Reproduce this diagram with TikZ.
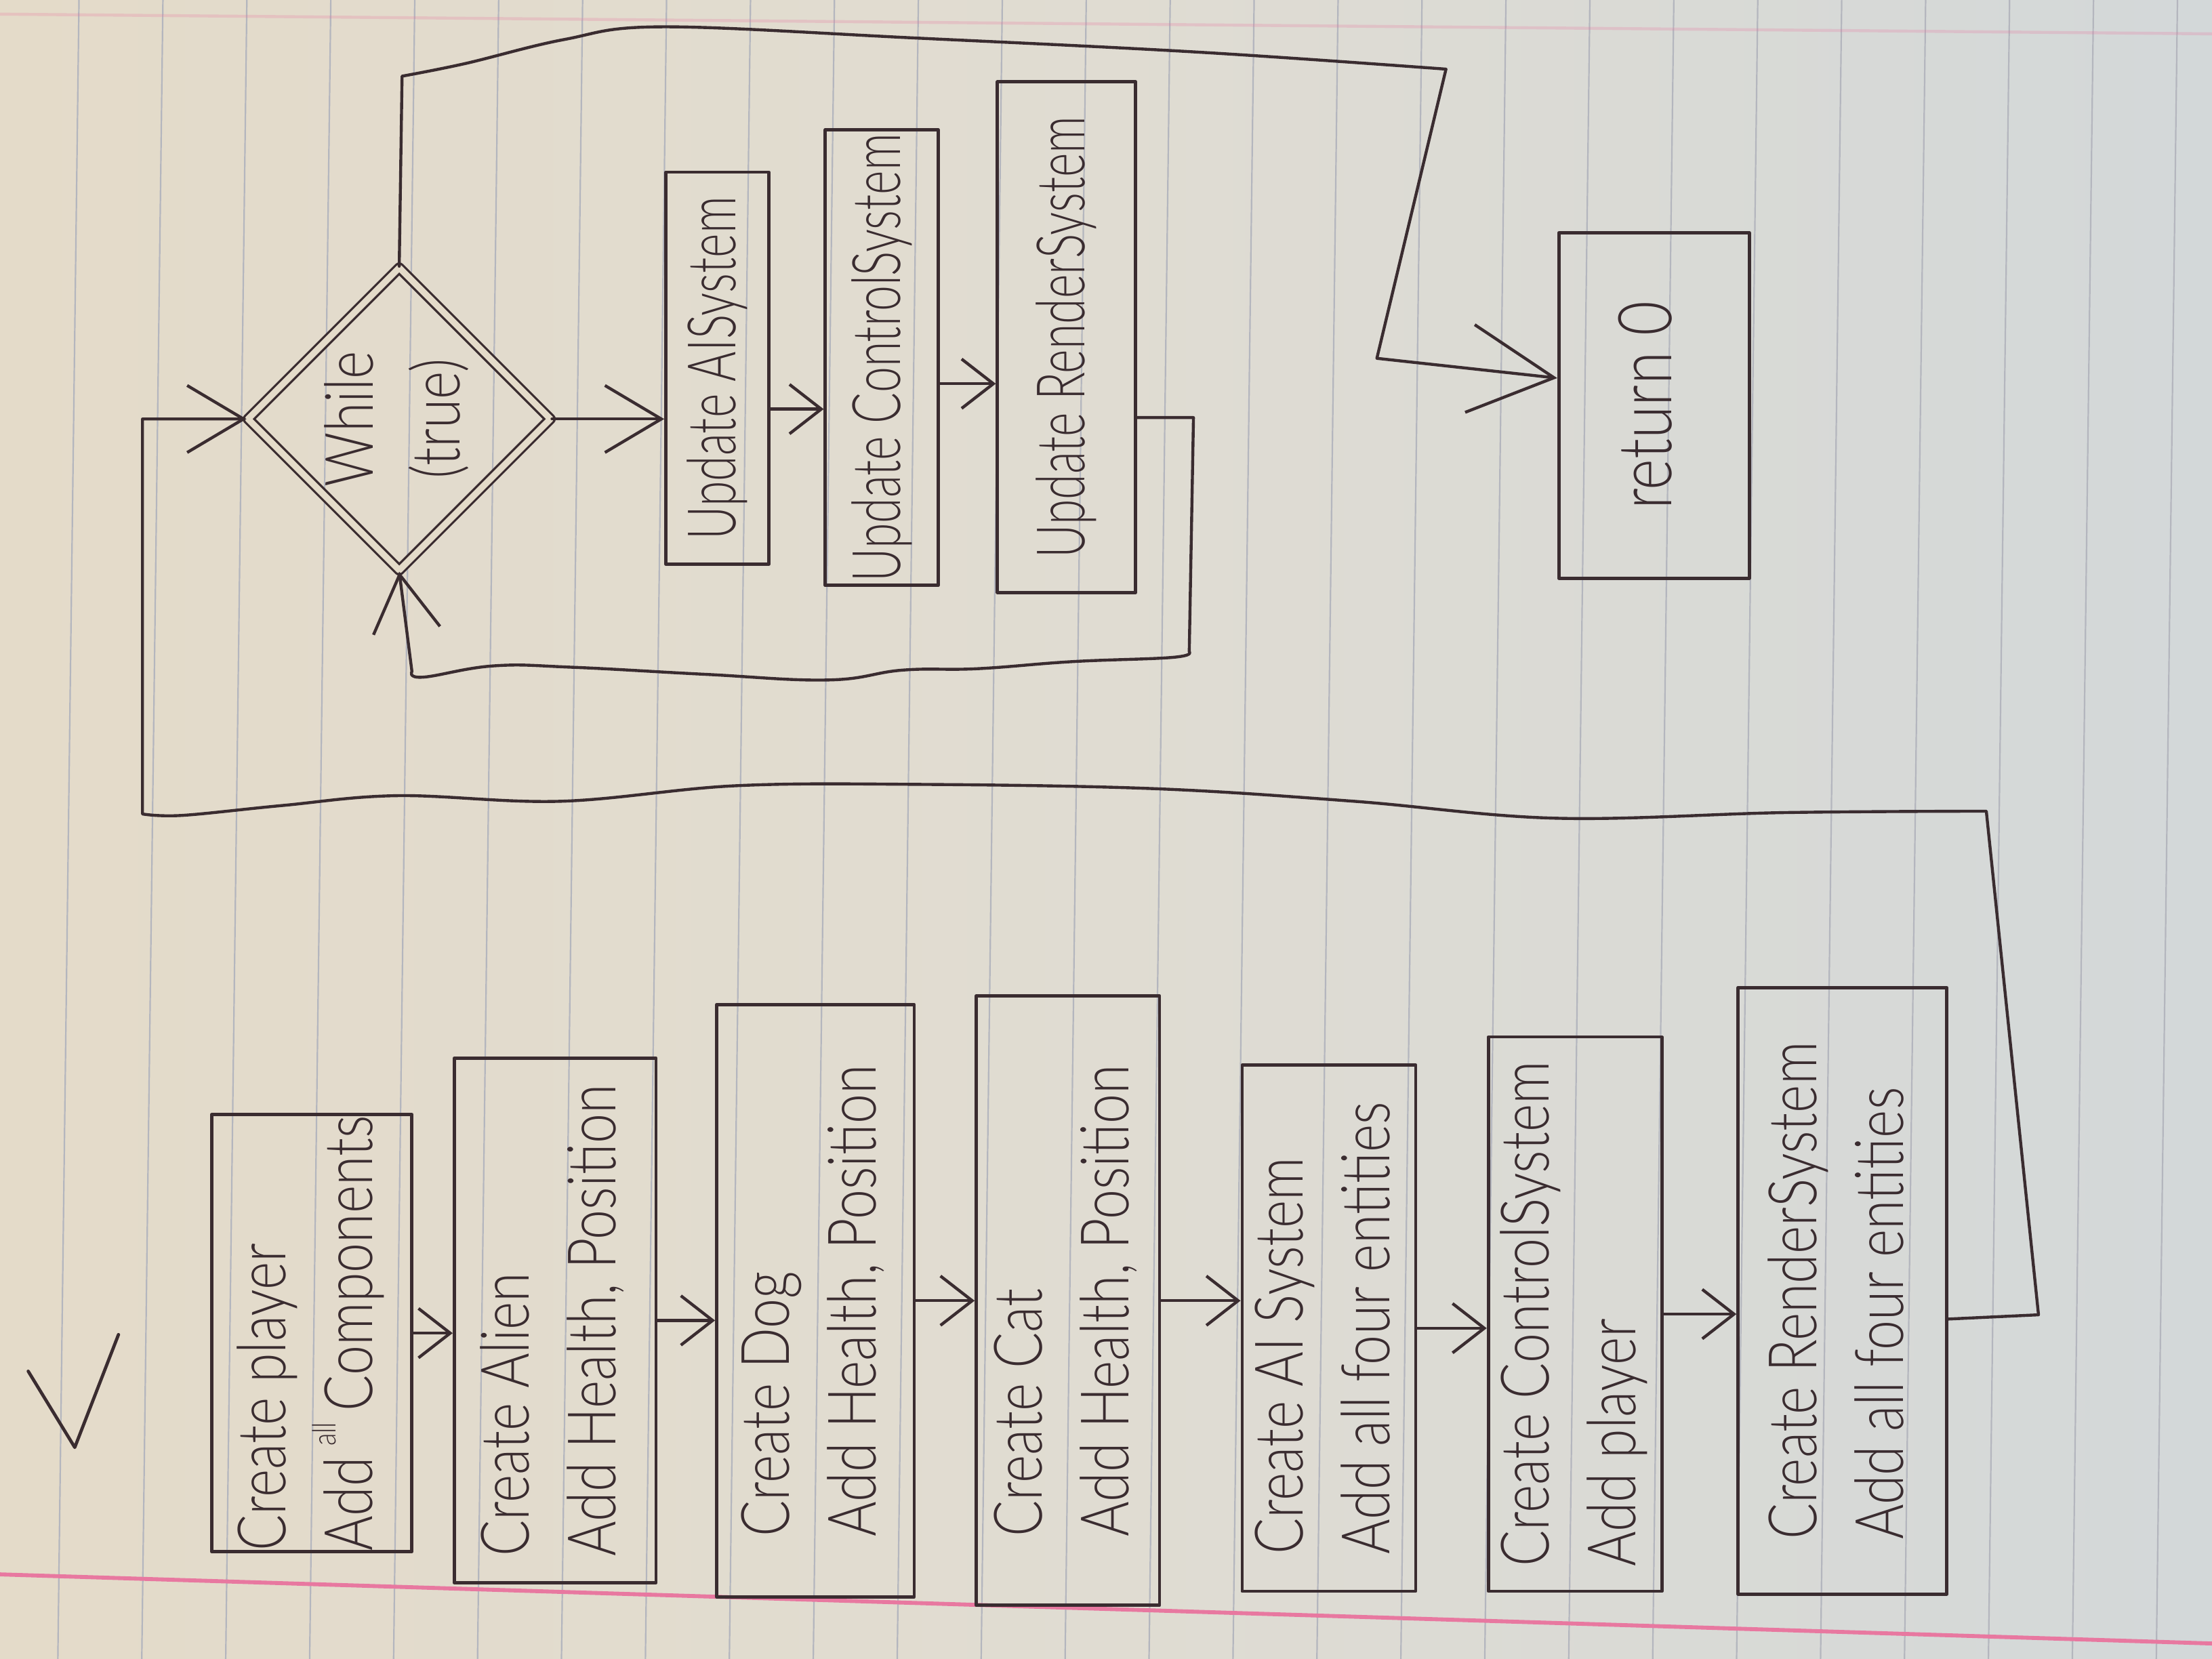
\documentclass[tikz,border=0pt]{standalone}
\usepackage{fontspec}
\newfontfamily\hand{Lato Light}[FakeStretch=0.8]
\usetikzlibrary{shapes.geometric,arrows.meta}

\definecolor{pen}{RGB}{58,44,48}
\definecolor{paperL}{RGB}{228,219,201}
\definecolor{paperM}{RGB}{224,220,210}
\definecolor{paperR}{RGB}{211,216,217}
\definecolor{ruling}{RGB}{180,182,190}
\definecolor{marginpink}{RGB}{232,120,160}

% labels written sideways (reading upwards)
\newcommand{\rt}[1]{\rotatebox{90}{\begin{tabular}{@{}l@{}}#1\end{tabular}}}
\newcommand{\rtc}[1]{\rotatebox{90}{\begin{tabular}{@{}c@{}}#1\end{tabular}}}
\newcommand{\rts}[1]{\rotatebox{90}{\scalebox{0.86}[1]{#1}}}

\begin{document}
\begin{tikzpicture}[x=0.02cm, y=-0.02cm,
  ink/.style={draw=pen, line width=1.3pt, line join=round, line cap=round},
  box/.style={ink, rectangle, inner sep=0pt, text=pen, font=\hand\fontsize{27}{35}\selectfont},
  lbl/.style={inner sep=0pt, text=pen, font=\hand\fontsize{27}{35}\selectfont},
  wire/.style={draw=pen, line width=1.2pt, line join=round, line cap=round},
  tipS/.style={-{Straight Barb[length=0.45cm, width=0.7cm]}},
  tipM/.style={-{Straight Barb[length=0.8cm, width=0.95cm]}},
  tipL/.style={-{Straight Barb[length=1.2cm, width=1.25cm]}},
]
\useasboundingbox (0,0) rectangle (1568,1176);

% ruled paper
\shade[left color=paperL, right color=paperR, middle color=paperM] (0,0) rectangle (1568,1176);
\foreach \k in {-3,...,25}
  \draw[ruling, line width=0.6pt] ({175+59.5*\k},0) -- ({160+59.5*\k},1176);
\draw[marginpink, line width=1.6pt] (0,1116) -- (1568,1165);
\draw[marginpink, opacity=0.25, line width=1.2pt] (0,10) -- (1568,24);

% tick in the margin
\draw[ink] (20,972) -- (53,1026) -- (84,946);

% set-up chain
\node[box, minimum width=2.84cm, minimum height=6.2cm]  (p1) at (221,945)
  {\rt{Create player\\Add\,\raisebox{0.55em}{\fontsize{13}{13}\selectfont all}\,Components}};
\node[box, minimum width=2.86cm, minimum height=7.44cm] (p2) at (393.5,936)
  {\rt{Create Alien\\Add Health, Position}};
\node[box, minimum width=2.8cm,  minimum height=8.4cm]  (p3) at (578,922)
  {\rt{Create Dog\\Add Health, Position}};
\node[box, minimum width=2.6cm,  minimum height=8.64cm] (p4) at (757,922)
  {\rt{Create Cat\\Add Health, Position}};
\node[box, minimum width=2.32cm, minimum height=7.46cm] (p5) at (942,941.5)
  {\rt{Create AI System\\Add all four entities}};
\node[box, minimum width=2.34cm, minimum height=7.86cm] (p6) at (1116.5,931.5)
  {\rt{Create ControlSystem\\Add player}};
\node[box, minimum width=2.96cm, minimum height=8.6cm]  (p7) at (1306,915)
  {\rt{Create RenderSystem\\Add all four entities}};

% game loop
\node[ink, diamond, aspect=1, minimum size=4.3cm, inner sep=0pt,
      double=paperL, double distance=0.09cm, line width=0.9pt] (cond) at (283,297) {};
\node[lbl] (condtxt) at (cond) {\rtc{While\\(true)}};
\node[box, minimum width=1.46cm, minimum height=5.56cm] (ua) at (508.5,261) {\rts{Update AISystem}};
\node[box, minimum width=1.6cm,  minimum height=6.46cm] (uc) at (625,253.5) {\rts{Update ControlSystem}};
\node[box, minimum width=1.96cm, minimum height=7.24cm] (ur) at (756,239) {\rts{Update RenderSystem}};
\node[box, minimum width=2.7cm,  minimum height=4.9cm, font=\hand\fontsize{30}{35}\selectfont]
  (ret) at (1172.5,287.5) {\rt{return 0}};

% arrows along the set-up chain
\draw[wire, tipS] (p1.east) -- (p1.east -| p2.west);
\draw[wire, tipS] (p2.east) -- (p2.east -| p3.west);
\draw[wire, tipS] (p3.east) -- (p3.east -| p4.west);
\draw[wire, tipS] (p4.east) -- (p4.east -| p5.west);
\draw[wire, tipS] (p5.east) -- (p5.east -| p6.west);
\draw[wire, tipS] (p6.east) -- (p6.east -| p7.west);

% from the last system into the loop condition
\draw[wire, tipM] (p7.east |- 0,935) -- (1445,932) -- plot[smooth, tension=0.6] coordinates
  {(1408,575) (1265,576) (1103,580) (960,568) (817,559) (650,556) (521,557)
   (397,568) (282,564) (200,571) (129,578) (101,577)}
  |- (cond.west);

% loop body
\draw[wire, tipM] (cond.east) -- (cond.east -| ua.west);
\draw[wire, tipS] (ua.east |- 0,290) -- (uc.west |- 0,290);
\draw[wire, tipS] (uc.east |- 0,272) -- (ur.west |- 0,272);
\draw[wire, tipM] (ur.east |- 0,296) -- (846,296) -- plot[smooth, tension=0.7] coordinates
  {(843,462) (831,466) (760,469) (693,474) (640,475) (587,482) (500,478)
   (406,473) (350,472) (300,480) (292,476)}
  -- (cond.south);

% leaving the loop
\draw[wire, tipL] (cond.north) -- plot[smooth, tension=0.6] coordinates
  {(285,54) (330,45) (400,28) (470,19) (650,27) (850,37) (1025,49)}
  -- (976,254) -- (ret.west |- 0,268);

\end{tikzpicture}
\end{document}
